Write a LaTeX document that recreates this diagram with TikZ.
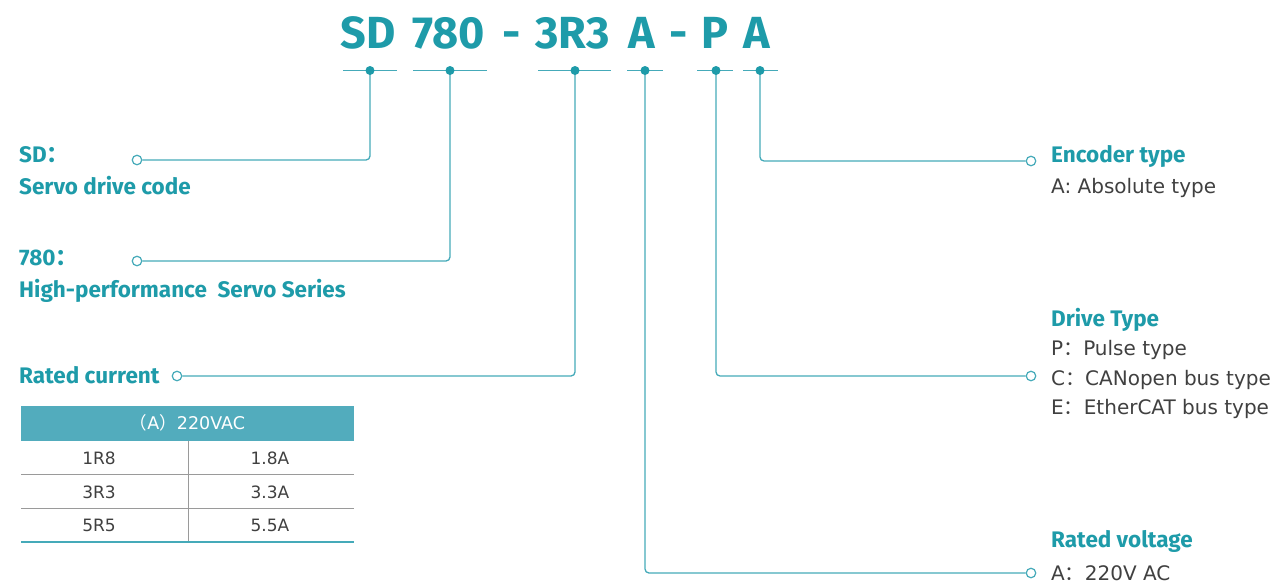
\documentclass[tikz,border=0pt]{standalone}
\usepackage{fontspec}
\setmainfont{Fira Sans}
\newfontfamily\bodyfont{DejaVu Sans}
\newfontfamily\cjk{Noto Sans CJK SC}
\definecolor{teal1}{HTML}{1E9BA9}
\definecolor{line1}{HTML}{45AAB9}
\definecolor{head1}{HTML}{52ACBD}
\definecolor{txt1}{HTML}{404040}
\definecolor{grid1}{HTML}{9A9A9A}
\begin{document}
\begin{tikzpicture}[x=1pt,y=-1pt,
  ttl/.style={font=\fontsize{45}{45}\selectfont\bfseries, text=teal1, anchor=base, inner sep=0},
  lbl/.style={font=\fontsize{22.5}{22.5}\selectfont\bfseries, text=teal1, anchor=base west, inner sep=0},
  body/.style={font=\bodyfont\fontsize{20}{20}\selectfont, text=txt1, anchor=base west, inner sep=0},
  tbl/.style={font=\bodyfont\fontsize{17}{17}\selectfont, text=txt1, anchor=base, inner sep=0},
  seg/.style={draw=line1, line width=1.3pt},
  conn/.style={draw=line1, line width=1.3pt, rounded corners=4pt},
  dotn/.style={circle, fill=teal1, inner sep=0, minimum size=9pt},
  ring/.style={circle, draw=line1, line width=1.2pt, fill=white, inner sep=0, minimum size=9.5pt}]
\useasboundingbox (0,0) rectangle (1275,584);

% title
\node[ttl] (tSD) at (368.5,48) {SD};
\node[ttl] (t780) at (448.5,48) {780};
\node[ttl] (tm1) at (511.5,48) {-};
\node[ttl] (t3R3) at (572.5,48) {3R3};
\node[ttl] (tA1) at (641.5,48) {A};
\node[ttl] (tm2) at (678.5,48) {-};
\node[ttl] (tP) at (714.5,48) {P};
\node[ttl] (tA2) at (756.5,48) {A};

% underline segments
\coordinate (s1a) at (343,70.5); \coordinate (s1b) at (397,70.5);
\coordinate (s2a) at (413,70.5); \coordinate (s2b) at (487,70.5);
\coordinate (s3a) at (538,70.5); \coordinate (s3b) at (611,70.5);
\coordinate (s4a) at (627,70.5); \coordinate (s4b) at (663,70.5);
\coordinate (s5a) at (697,70.5); \coordinate (s5b) at (733,70.5);
\coordinate (s6a) at (743,70.5); \coordinate (s6b) at (778,70.5);
\draw[seg] (s1a) -- (s1b);
\draw[seg] (s2a) -- (s2b);
\draw[seg] (s3a) -- (s3b);
\draw[seg] (s4a) -- (s4b);
\draw[seg] (s5a) -- (s5b);
\draw[seg] (s6a) -- (s6b);

% end rings
\node[ring] (r1) at (137,160) {};
\node[ring] (r2) at (137,261) {};
\node[ring] (r3) at (177,376) {};
\node[ring] (r4) at (1031,573) {};
\node[ring] (r5) at (1031,376) {};
\node[ring] (r6) at (1031,161) {};

% connectors
\coordinate (d1) at (370,70.5);
\coordinate (d2) at (450,70.5);
\coordinate (d3) at (575,70.5);
\coordinate (d4) at (645,70.5);
\coordinate (d5) at (716,70.5);
\coordinate (d6) at (760,70.5);
\draw[conn] (d1) |- (r1.east);
\draw[conn] (d2) |- (r2.east);
\draw[conn] (d3) |- (r3.east);
\draw[conn] (d4) |- (r4.west);
\draw[conn] (d5) |- (r5.west);
\draw[conn] (d6) |- (r6.west);

% dots
\node[dotn] (n1) at (d1) {};
\node[dotn] (n2) at (d2) {};
\node[dotn] (n3) at (d3) {};
\node[dotn] (n4) at (d4) {};
\node[dotn] (n5) at (d5) {};
\node[dotn] (n6) at (d6) {};

% left labels
\node[lbl] (lSD) at (19,162) {SD{\cjk ：}};
\node[lbl] (lSD2) at (19,194) {Servo drive code};
\node[lbl] (l780) at (19,265) {780{\cjk ：}};
\node[lbl] (l7802) at (19,297) {High-performance\ \ Servo Series};
\node[lbl] (lRC) at (19,383) {Rated current};

% right labels
\node[lbl] (rEnc) at (1051,162) {Encoder type};
\node[body] (rEnc1) at (1051,193) {A: Absolute type};
\node[lbl] (rDrv) at (1051,326) {Drive Type};
\node[body] (rDrv1) at (1051,355) {P{\cjk ：}Pulse type};
\node[body] (rDrv2) at (1051,385) {C{\cjk ：}CANopen bus type};
\node[body] (rDrv3) at (1051,414) {E{\cjk ：}EtherCAT bus type};
\node[lbl] (rVol) at (1051,547) {Rated voltage};
\node[body] (rVol1) at (1051,580) {A{\cjk ：}220V AC};

% table
\fill[head1] (21,406) rectangle (354,441);
\node[tbl, text=white, font=\bodyfont\fontsize{17.5}{17.5}\selectfont] (th) at (187.5,429) {{\cjk （}A{\cjk ）}220VAC};
\draw[grid1, line width=0.8pt] (21,474) -- (354,474);
\draw[grid1, line width=0.8pt] (21,508) -- (354,508);
\draw[grid1, line width=0.8pt] (188,441) -- (188,542);
\draw[line1, line width=2.5pt] (21,542) -- (354,542);
\node[tbl] (c11) at (99,464) {1R8};
\node[tbl] (c12) at (270,464) {1.8A};
\node[tbl] (c21) at (99,498) {3R3};
\node[tbl] (c22) at (270,498) {3.3A};
\node[tbl] (c31) at (99,531) {5R5};
\node[tbl] (c32) at (270,531) {5.5A};
\end{tikzpicture}
\end{document}
